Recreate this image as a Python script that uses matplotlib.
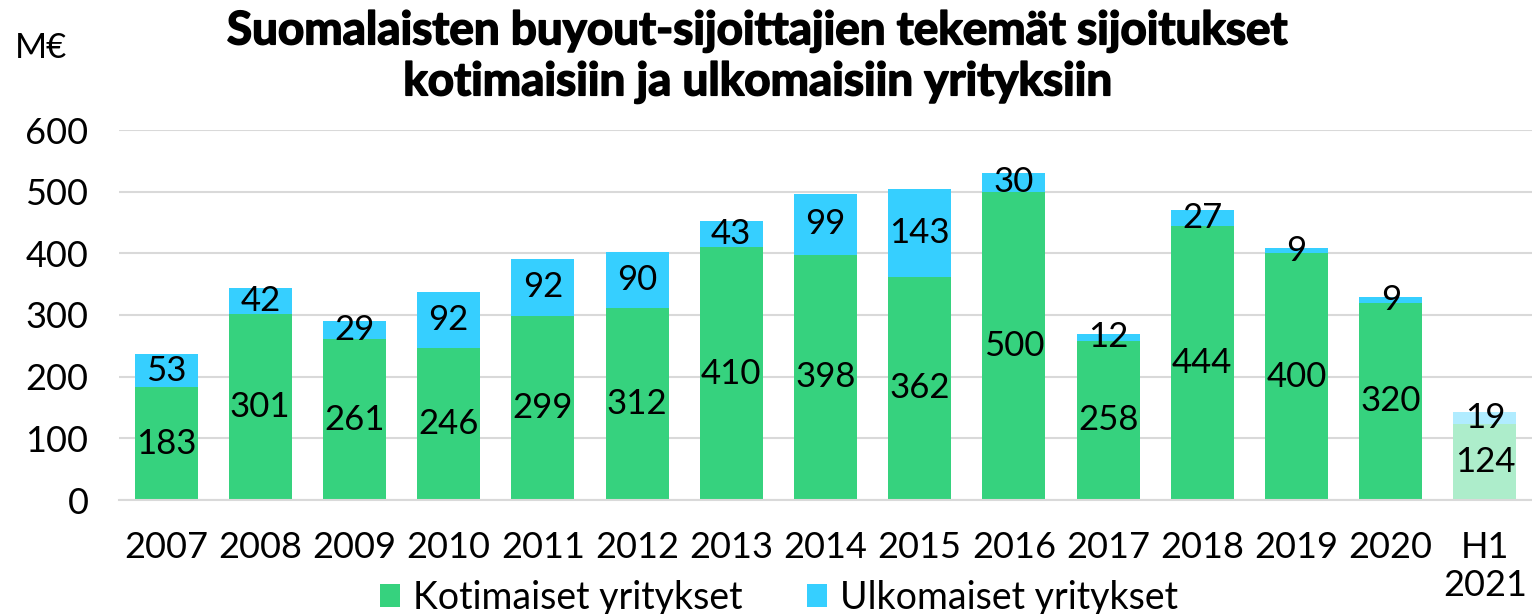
import numpy as np
import matplotlib.pyplot as plt
import matplotlib.patheffects as pe

plt.rcParams['font.family'] = ['Lato', 'DejaVu Sans']

years = ['2007', '2008', '2009', '2010', '2011', '2012', '2013', '2014',
         '2015', '2016', '2017', '2018', '2019', '2020', 'H1\n2021']
domestic = [183, 301, 261, 246, 299, 312, 410, 398, 362, 500, 258, 444, 400, 320, 124]
foreign = [53, 42, 29, 92, 92, 90, 43, 99, 143, 30, 12, 27, 9, 9, 19]

green = '#36D27E'
blue = '#36CFFF'
green_light = '#ADEDCB'
blue_light = '#B0ECFF'

fig = plt.figure(figsize=(15.32, 6.14), dpi=100)
ax = fig.add_axes([119 / 1532, 1 - 500 / 614, 1413 / 1532, 370 / 614])

x = np.arange(len(years))
gcol = [green] * (len(years) - 1) + [green_light]
bcol = [blue] * (len(years) - 1) + [blue_light]
ax.bar(x, domestic, width=0.67, color=gcol, zorder=2, label='Kotimaiset yritykset')
ax.bar(x, foreign, width=0.67, bottom=domestic, color=bcol, zorder=2,
       label='Ulkomaiset yritykset')

for i in range(len(years)):
    ax.text(x[i], domestic[i] / 2, str(domestic[i]), ha='center', va='center',
            fontsize=25, color='black', zorder=3)
    ax.text(x[i], domestic[i] + foreign[i] / 2, str(foreign[i]), ha='center',
            va='center', fontsize=25, color='black', zorder=3)

ax.set_xlim(-0.5, len(years) - 0.5)
ax.set_ylim(0, 600)
ax.set_yticks(range(0, 601, 100))
ax.set_xticks(x)
ax.set_xticklabels(years, fontsize=26, linespacing=1.2)
ax.tick_params(axis='y', labelsize=26, length=0, pad=22)
ax.tick_params(axis='x', length=0, pad=22)
ax.grid(axis='y', color='#D9D9D9', linewidth=1.5, zorder=0)
for s in ['top', 'right', 'left']:
    ax.spines[s].set_visible(False)
ax.spines['bottom'].set_color('#D9D9D9')
ax.spines['bottom'].set_linewidth(1.5)

fig.text(15 / 1532, 1 - 48 / 614, 'M€', fontsize=25, va='center', ha='left')
title = fig.text(758 / 1532, 1 - 57 / 614,
                 'Suomalaisten buyout-sijoittajien tekemät sijoitukset\nkotimaisiin ja ulkomaisiin yrityksiin',
                 fontsize=33, fontweight='bold', ha='center', va='center', linespacing=1.25)
title.set_path_effects([pe.withStroke(linewidth=1.2, foreground='black')])

fig.legend(loc='center', bbox_to_anchor=(779 / 1532, 1 - 598 / 614), ncol=2,
           frameon=False, fontsize=27, handlelength=0.55, handleheight=0.55,
           handletextpad=0.35, columnspacing=1.7)

fig.savefig('out.png', dpi=100)
